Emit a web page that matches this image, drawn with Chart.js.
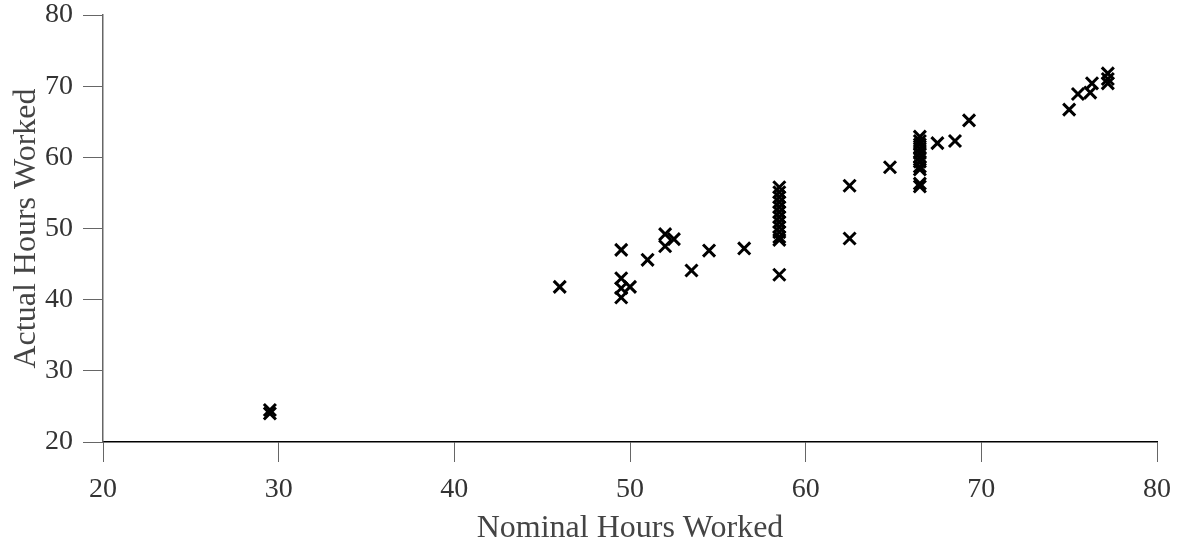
<!DOCTYPE html>
<html>
<head>
<meta charset="utf-8">
<script src="https://cdn.jsdelivr.net/npm/chart.js@4/dist/chart.umd.min.js"></script>
<style>
html,body{margin:0;padding:0;background:#fff;}
#wrap{width:1185px;height:552px;position:relative;}
</style>
</head>
<body>
<div id="wrap"><canvas id="c" width="1185" height="552"></canvas></div>
<script>
// Nominal hours (x) and actual hours (y)
const nominalHours = [
  29.5, 29.5,
  46.0,
  49.5, 49.5, 49.5, 49.5,
  50.0, 51.0, 52.0, 52.0, 52.5, 53.5, 54.5, 56.5,
  58.5, 58.5, 58.5, 58.5, 58.5, 58.5, 58.5, 58.5, 58.5, 58.5, 58.5, 58.5, 58.5,
  62.5, 62.5, 64.8,
  66.5, 66.5, 66.5, 66.5, 66.5, 66.5, 66.5, 66.5, 66.5, 66.5, 66.5,
  67.5, 68.5, 69.3,
  75.0, 75.5, 76.2, 76.3, 77.2, 77.2, 77.2
];
const actualHours = [
  24.5, 24.0,
  41.8,
  47.0, 43.0, 41.6, 40.3,
  41.8, 45.6, 49.2, 47.5, 48.5, 44.1, 46.9, 47.2,
  55.8, 55.1, 54.4, 53.7, 53.0, 52.3, 51.6, 50.9, 50.2, 49.5, 48.8, 48.4, 43.5,
  56.0, 48.6, 58.6,
  62.9, 62.3, 61.8, 61.2, 60.6, 60.0, 59.4, 58.7, 58.3, 56.3, 55.9,
  62.0, 62.3, 65.2,
  66.7, 68.9, 69.1, 70.4, 71.8, 71.0, 70.4
];
const xTicks = [20, 30, 40, 50, 60, 70, 80];
const yTicks = [20, 30, 40, 50, 60, 70, 80];
const xTitle = 'Nominal Hours Worked';
const yTitle = 'Actual Hours Worked';

const points = nominalHours.map((x, i) => ({x: x, y: actualHours[i]}));
const FONT = '"Liberation Serif", "DejaVu Serif", serif';

new Chart(document.getElementById('c'), {
  type: 'scatter',
  data: {
    datasets: [{
      data: points,
      pointStyle: 'crossRot',
      pointRadius: 8.5,
      pointHoverRadius: 8.5,
      borderColor: '#000',
      backgroundColor: '#000',
      borderWidth: 3
    }]
  },
  options: {
    responsive: false,
    animation: false,
    events: [],
    layout: {padding: {top: 15, right: 28, left: 0, bottom: 0}},
    plugins: {legend: {display: false}, tooltip: {enabled: false}},
    scales: {
      x: {
        type: 'linear',
        min: 20, max: 80,
        afterBuildTicks: s => { s.ticks = xTicks.map(v => ({value: v})); },
        afterFit: s => { s.height = 110; s.paddingLeft = 0; s.paddingRight = 0; },
        border: {display: true, color: '#000', width: 1.5},
        grid: {drawOnChartArea: false, drawTicks: true, tickLength: 20, color: '#666', lineWidth: 1},
        ticks: {color: '#333', padding: 11, font: {family: FONT, size: 28}, maxRotation: 0},
        title: {display: true, text: xTitle, color: '#444', font: {family: FONT, size: 32}, padding: {top: 0, bottom: 4}}
      },
      y: {
        type: 'linear',
        min: 20, max: 80,
        afterBuildTicks: s => { s.ticks = yTicks.map(v => ({value: v})); },
        afterFit: s => { s.width = 103; s.paddingTop = 0; s.paddingBottom = 0; },
        border: {display: true, color: '#666', width: 1.5},
        grid: {drawOnChartArea: false, drawTicks: true, tickLength: 20, color: '#666', lineWidth: 1},
        ticks: {color: '#333', padding: 10, font: {family: FONT, size: 28}},
        title: {display: true, text: yTitle, color: '#444', font: {family: FONT, size: 32}, padding: {top: 7, bottom: 0}}
      }
    }
  }
});
</script>
</body>
</html>
